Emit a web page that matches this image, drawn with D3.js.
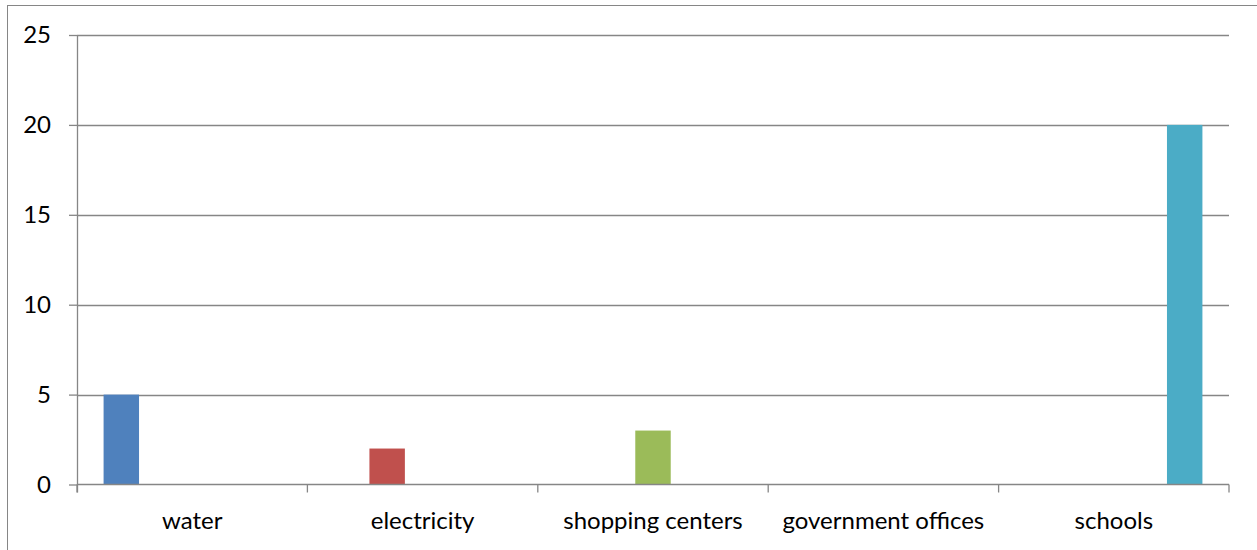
<!DOCTYPE html>
<html><head><meta charset="utf-8">
<script src="https://cdn.jsdelivr.net/npm/d3@7"></script>
<style>body{margin:0;background:#fff}svg{display:block}</style>
</head><body>
<script>
const categories = ["water","electricity","shopping centers","government offices","schools"];
const seriesNames = ["water","electricity","shopping centers","government offices","schools"];
// each series has a value only in its own category
const seriesValues = [
  [5,0,0,0,0],
  [0,2,0,0,0],
  [0,0,3,0,0],
  [0,0,0,0,0],
  [0,0,0,0,20]
];
const colors = ["#4F81BD","#C0504D","#9BBB59","#8064A2","#4BACC6"];
const yTicks = [0,5,10,15,20,25];

(function(){
const W=1257,H=550;
const svg=d3.select("body").append("svg").attr("width",W).attr("height",H);
const font="Lato, 'Open Sans', sans-serif";
svg.append("line").attr("x1",7.5).attr("x2",7.5).attr("y1",5).attr("y2",H).attr("stroke","#868686");
svg.append("line").attr("x1",7).attr("x2",W).attr("y1",5.5).attr("y2",5.5).attr("stroke","#868686");

const pL=77,pR=1229,pT=35,pB=484.5;
const x=d3.scaleBand().domain(categories).range([pL,pR]).paddingInner(0).paddingOuter(0);
const y=d3.scaleLinear().domain([0,25]).range([pB,pT]);
const bw=x.bandwidth()/(seriesNames.length+1.5);
const xs=d3.scaleBand().domain(seriesNames).range([0.75*bw,x.bandwidth()-0.75*bw]).padding(0);

svg.append("g").selectAll("line").data(yTicks.filter(d=>d>0)).join("line")
  .attr("x1",pL).attr("x2",pR).attr("y1",d=>Math.round(y(d))+0.5).attr("y2",d=>Math.round(y(d))+0.5)
  .attr("stroke","#868686").attr("stroke-width",1.3);

seriesNames.forEach((s,si)=>{
  svg.append("g").selectAll("rect").data(categories.map((c,ci)=>({c,v:seriesValues[si][ci]}))).join("rect")
    .attr("x",d=>x(d.c)+xs(s)).attr("width",xs.bandwidth())
    .attr("y",d=>y(d.v)).attr("height",d=>pB-y(d.v))
    .attr("fill",colors[si]);
});

const ya=svg.append("g").attr("transform",`translate(${pL},0)`)
  .call(d3.axisLeft(y).tickValues(yTicks).tickSize(8).tickPadding(18));
ya.select(".domain").attr("stroke","#868686").attr("stroke-width",1.3).attr("d",`M0.5,${pT}V${pB+8}`);
ya.selectAll(".tick line").attr("stroke","#868686").attr("stroke-width",1.3);
ya.selectAll("text").attr("font-family",font).attr("font-size",24).attr("fill","#000");

svg.append("line").attr("x1",pL).attr("x2",pR).attr("y1",pB).attr("y2",pB).attr("stroke","#868686").attr("stroke-width",1.3);
const bounds=categories.map(c=>x(c)).concat([pR]);
svg.append("g").selectAll("line").data(bounds).join("line")
  .attr("x1",d=>d).attr("x2",d=>d).attr("y1",pB).attr("y2",pB+8)
  .attr("stroke","#868686").attr("stroke-width",1.3);
svg.append("g").selectAll("text").data(categories).join("text")
  .attr("x",d=>x(d)+x.bandwidth()/2).attr("y",529)
  .attr("text-anchor","middle").attr("font-family",font).attr("font-size",24).attr("fill","#000")
  .text(d=>d);
})();
</script>
</body></html>
